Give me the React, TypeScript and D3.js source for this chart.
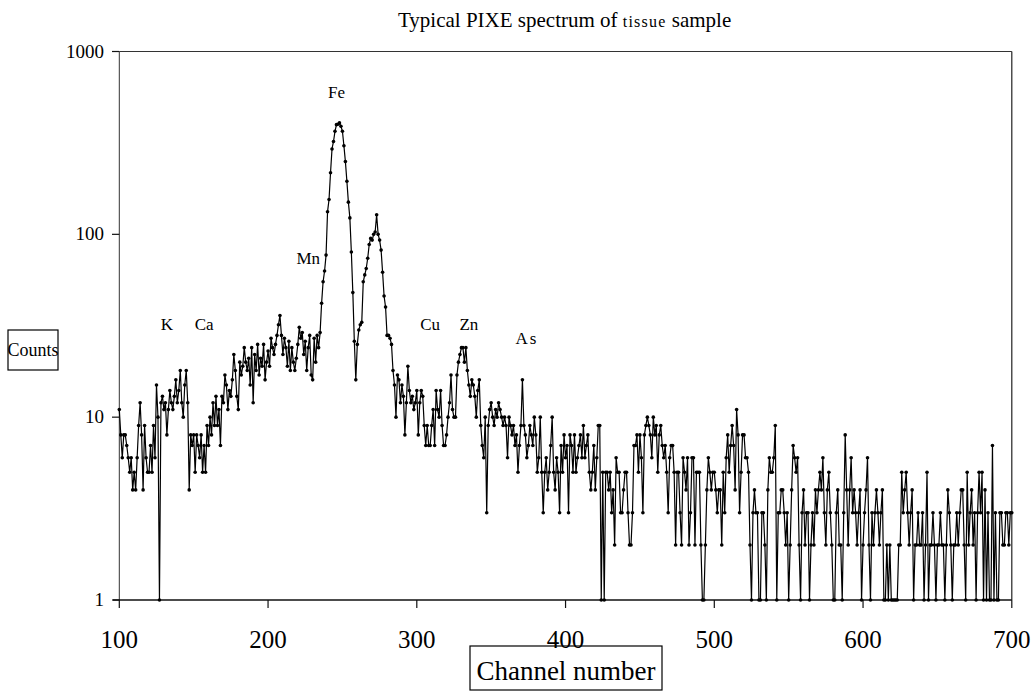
import React from "react";
import * as d3 from "d3";

// Channel range of the spectrum
const CHANNEL_START = 100;
const CHANNEL_END = 700;

// Counts per channel, channels 100..700
const counts: number[] = [
  // 100
  11, 8, 6, 8, 8, 7, 6, 5, 6, 4,
  // 110
  5, 4, 6, 9, 12, 8, 4, 9, 6, 5,
  // 120
  5, 7, 5, 9, 6, 15, 10, 1, 12, 13,
  // 130
  11, 12, 8, 11, 14, 12, 11, 13, 16, 12,
  // 140
  14, 18, 12, 10, 15, 18, 12, 4, 8, 7,
  // 150
  8, 5, 8, 7, 6, 8, 5, 7, 5, 9,
  // 160
  7, 10, 8, 12, 9, 13, 9, 11, 7, 13,
  // 170
  12, 17, 15, 11, 14, 13, 16, 22, 18, 13,
  // 180
  11, 20, 17, 19, 24, 20, 18, 21, 15, 24,
  // 190
  12, 22, 18, 25, 17, 21, 19, 25, 16, 20,
  // 200
  23, 19, 27, 24, 22, 25, 28, 32, 36, 28,
  // 210
  22, 27, 24, 19, 26, 18, 24, 20, 18, 21,
  // 220
  25, 31, 27, 29, 22, 26, 18, 24, 28, 17,
  // 230
  16, 27, 20, 28, 24, 29, 42, 55, 63, 77,
  // 240
  133, 155, 217, 293, 322, 366, 398, 400, 407, 390,
  // 250
  366, 305, 250, 195, 150, 123, 80, 48, 26, 16,
  // 260
  25, 30, 32, 33, 55, 60, 65, 74, 88, 95,
  // 270
  93, 100, 103, 128, 100, 93, 82, 62, 46, 40,
  // 280
  28, 28, 27, 25, 18, 15, 10, 17, 16, 12,
  // 290
  15, 13, 8, 12, 19, 14, 12, 13, 11, 12,
  // 300
  14, 8, 12, 14, 13, 9, 7, 9, 7, 7,
  // 310
  9, 11, 7, 14, 11, 10, 14, 9, 7, 7,
  // 320
  8, 10, 12, 17, 11, 10, 10, 17, 20, 22,
  // 330
  24, 24, 20, 24, 18, 15, 13, 16, 15, 13,
  // 340
  10, 14, 16, 9, 7, 6, 10, 3, 9, 11,
  // 350
  12, 10, 9, 11, 10, 12, 11, 10, 9, 10,
  // 360
  9, 6, 10, 9, 8, 9, 7, 8, 5, 7,
  // 370
  9, 16, 9, 8, 6, 7, 9, 8, 7, 10,
  // 380
  8, 5, 6, 10, 5, 3, 5, 6, 4, 5,
  // 390
  7, 10, 5, 4, 6, 5, 3, 7, 5, 8,
  // 400
  6, 7, 3, 8, 7, 5, 8, 5, 6, 7,
  // 410
  8, 6, 9, 6, 7, 8, 5, 4, 5, 7,
  // 420
  4, 6, 9, 9, 1, 5, 1, 5, 5, 4,
  // 430
  5, 3, 4, 2, 6, 5, 5, 3, 3, 4,
  // 440
  5, 5, 3, 2, 2, 3, 7, 7, 8, 5,
  // 450
  8, 6, 3, 8, 9, 10, 9, 8, 6, 10,
  // 460
  8, 9, 5, 8, 9, 7, 6, 7, 5, 3,
  // 470
  6, 7, 7, 5, 2, 5, 5, 3, 2, 6,
  // 480
  5, 4, 6, 2, 3, 6, 6, 2, 5, 5,
  // 490
  5, 2, 1, 1, 2, 4, 6, 5, 4, 5,
  // 500
  5, 4, 3, 4, 4, 2, 5, 3, 6, 8,
  // 510
  5, 7, 9, 7, 4, 11, 8, 3, 5, 8,
  // 520
  8, 6, 6, 5, 2, 1, 3, 4, 3, 3,
  // 530
  1, 1, 3, 3, 2, 1, 4, 6, 5, 5,
  // 540
  6, 9, 1, 3, 3, 4, 4, 3, 2, 3,
  // 550
  1, 2, 4, 7, 6, 5, 6, 2, 1, 3,
  // 560
  4, 2, 3, 3, 1, 2, 3, 2, 4, 3,
  // 570
  4, 5, 4, 6, 3, 2, 4, 5, 3, 2,
  // 580
  1, 1, 3, 4, 2, 2, 1, 3, 8, 4,
  // 590
  2, 4, 6, 3, 4, 3, 2, 3, 4, 1,
  // 600
  2, 3, 4, 6, 2, 1, 3, 2, 3, 4,
  // 610
  3, 2, 3, 4, 1, 1, 2, 1, 2, 1,
  // 620
  1, 1, 1, 1, 2, 2, 5, 3, 4, 5,
  // 630
  3, 2, 3, 4, 1, 2, 2, 3, 2, 2,
  // 640
  3, 1, 2, 5, 1, 2, 2, 3, 2, 1,
  // 650
  2, 2, 3, 2, 2, 1, 2, 4, 3, 2,
  // 660
  1, 2, 2, 3, 2, 3, 4, 4, 2, 1,
  // 670
  5, 2, 3, 4, 2, 3, 1, 3, 5, 3,
  // 680
  5, 1, 4, 1, 3, 1, 1, 7, 1, 3,
  // 690
  1, 1, 3, 3, 2, 2, 3, 3, 2, 3,
  // 700
  3,
];

const xTicks = [100, 200, 300, 400, 500, 600, 700];
const yTicks = [1, 10, 100, 1000];

// Element peak labels: label, channel position, count level of the text baseline
const peakLabels = ["K", "Ca", "Mn", "Fe", "Cu", "Zn", "As"];
const peakChannels = [132, 157, 227, 246, 309, 335, 374];
const peakLevels = [30, 30, 69, 557, 30, 30, 25];

const SERIF = "'Liberation Serif', 'Times New Roman', Times, serif";

export default function App() {
  const x = d3.scaleLinear().domain([CHANNEL_START, CHANNEL_END]).range([119.3, 1011.8]);
  const y = d3.scaleLog().domain([1, 1000]).range([600, 51.5]);

  const pts: [number, number][] = counts.map((v, i) => [CHANNEL_START + i, Math.max(1, v)]);
  const line = d3
    .line<[number, number]>()
    .x((d) => x(d[0]))
    .y((d) => y(d[1]));

  const [x0, x1] = x.range();
  const [yb, yt] = y.range();

  return (
    <svg
      width={1034}
      height={691}
      style={{ position: "absolute", left: 0, top: 0, background: "#fff" }}
      fontFamily={SERIF}
    >
      <rect x={0} y={0} width={1034} height={691} fill="#fff" />
      {/* title */}
      <text x={398} y={27} fontSize={21} fill="#000">
        Typical PIXE spectrum of{" "}
        <tspan fontSize={16} letterSpacing={1.2}>tissue</tspan>
        <tspan> sample</tspan>
      </text>

      {/* frame */}
      <line x1={x0} y1={yt} x2={x1} y2={yt} stroke="#333" strokeWidth={1} />
      <line x1={x1} y1={yt} x2={x1} y2={yb} stroke="#222" strokeWidth={1.2} />
      <line x1={x0} y1={yt} x2={x0} y2={yb} stroke="#333" strokeWidth={1} />
      <line x1={113} y1={yb} x2={x1} y2={yb} stroke="#111" strokeWidth={1.3} />

      {/* y ticks */}
      {yTicks.map((t) => (
        <g key={"y" + t}>
          <line x1={112} x2={x0} y1={y(t)} y2={y(t)} stroke="#111" strokeWidth={1.2} />
          <text x={104} y={y(t) + 6} fontSize={19} textAnchor="end" fill="#000">
            {t}
          </text>
        </g>
      ))}

      {/* x ticks */}
      {xTicks.map((t) => (
        <g key={"x" + t}>
          <line x1={x(t)} x2={x(t)} y1={yb} y2={yb + 8} stroke="#111" strokeWidth={1.2} />
          <text x={x(t)} y={648} fontSize={25} textAnchor="middle" fill="#000">
            {t}
          </text>
        </g>
      ))}

      {/* spectrum */}
      <path d={line(pts) || ""} fill="none" stroke="#000" strokeWidth={1.2} strokeLinejoin="round" />
      {pts.map((d, i) => (
        <circle key={i} cx={x(d[0])} cy={y(d[1])} r={1.8} fill="#000" />
      ))}

      {/* element labels */}
      {peakLabels.map((lab, i) => (
        <text
          key={lab}
          x={x(peakChannels[i])}
          y={y(peakLevels[i])}
          fontSize={17}
          textAnchor="middle"
          letterSpacing={lab === "As" ? 2 : 0}
          fill="#000"
        >
          {lab}
        </text>
      ))}

      {/* axis titles in boxes */}
      <rect x={470} y={646} width={192} height={44} fill="none" stroke="#000" strokeWidth={1.2} />
      <text x={566} y={680} fontSize={27} textAnchor="middle" fill="#000">
        Channel number
      </text>

      <rect x={8} y={330} width={50} height={40} fill="none" stroke="#000" strokeWidth={1.2} />
      <text x={33} y={356} fontSize={18} textAnchor="middle" fill="#000">
        Counts
      </text>
    </svg>
  );
}
